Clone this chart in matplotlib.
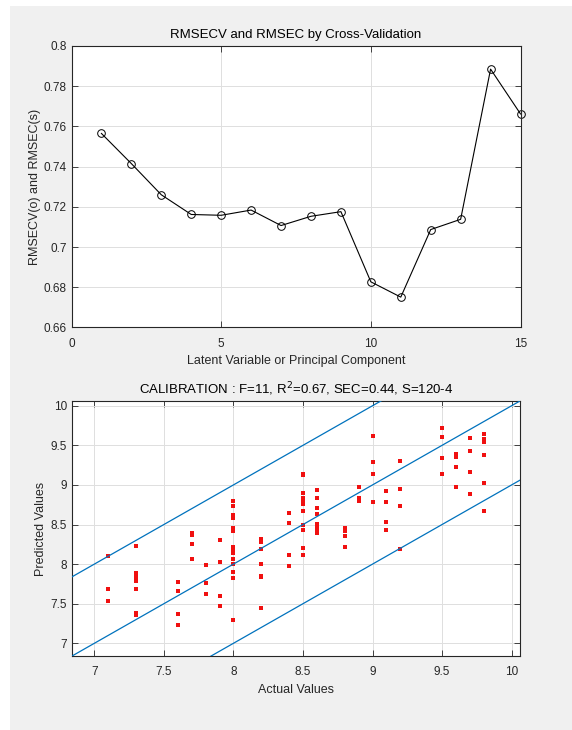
import numpy as np
import matplotlib.pyplot as plt
from matplotlib.patches import Rectangle

# RMSECV per number of latent variables
n_components = [1, 2, 3, 4, 5, 6, 7, 8, 9, 10, 11, 12, 13, 14, 15]
rmsecv = [0.7565, 0.7415, 0.7260, 0.7162, 0.7158, 0.7184, 0.7107, 0.7153,
          0.7176, 0.6827, 0.6751, 0.7087, 0.7138, 0.7885, 0.7662]

# Calibration set: actual value -> predicted values for the samples at that level
actual_levels = [7.1, 7.3, 7.6, 7.7, 7.8, 7.9, 8.0, 8.2, 8.4, 8.5,
                 8.6, 8.8, 8.9, 9.0, 9.1, 9.2, 9.5, 9.6, 9.7, 9.8]
predicted_groups = [
    [8.10, 7.69, 7.53],
    [8.23, 7.89, 7.84, 7.81, 7.79, 7.69, 7.38, 7.36],
    [7.78, 7.66, 7.37, 7.23],
    [8.39, 8.37, 8.26, 8.06],
    [7.99, 7.76, 7.62],
    [8.31, 8.03, 7.60, 7.47],
    [8.80, 8.74, 8.62, 8.60, 8.58, 8.46, 8.42, 8.21, 8.16, 8.14, 8.06, 8.00, 7.90, 7.83, 7.29],
    [8.32, 8.30, 8.28, 8.19, 8.00, 7.85, 7.84, 7.44],
    [8.64, 8.52, 8.11, 7.97],
    [9.14, 9.12, 8.90, 8.84, 8.78, 8.76, 8.67, 8.49, 8.43, 8.20, 8.12],
    [8.94, 8.83, 8.71, 8.63, 8.51, 8.49, 8.47, 8.44, 8.42, 8.39],
    [8.46, 8.44, 8.42, 8.36, 8.22],
    [8.97, 8.83, 8.80],
    [9.62, 9.29, 9.14, 8.78],
    [8.92, 8.78, 8.53, 8.43],
    [9.30, 8.95, 8.73, 8.19],
    [9.72, 9.61, 9.34, 9.14],
    [9.39, 9.37, 9.35, 9.23, 8.97],
    [9.59, 9.43, 9.16, 8.88],
    [9.64, 9.58, 9.56, 9.54, 9.38, 9.02, 8.67],
]
band_offsets = [1, 0, -1]

TXT = "#262626"
GRID = "#dfdfdf"
LINE_BLUE = "#0072BD"


def style_axes(ax):
    ax.set_facecolor("white")
    for s in ax.spines.values():
        s.set_color(TXT)
        s.set_linewidth(0.8)
    ax.tick_params(direction="in", top=True, right=True, length=4, width=0.6,
                   colors=TXT, labelsize=8.5)
    ax.tick_params(axis="x", pad=7.5)
    ax.tick_params(axis="y", pad=3.5)
    ax.grid(True, color=GRID, linewidth=0.7)
    ax.set_axisbelow(True)


def main():
    plt.rcParams["font.family"] = ["Liberation Sans", "DejaVu Sans"]
    fig = plt.figure(figsize=(5.72, 7.30), dpi=100, facecolor="white")
    # grey window panel with a thin white strip on the left and top
    fig.patches.append(Rectangle((10 / 572, 0), 1, 1 - 6 / 730, transform=fig.transFigure,
                                 facecolor="#f0f0f0", edgecolor="none", zorder=-10))

    # top: RMSECV curve
    ax1 = fig.add_axes([0.125, 0.5514, 0.785, 0.3856])
    style_axes(ax1)
    ax1.plot(n_components, rmsecv, color="black", linewidth=0.8, marker="o",
             markersize=5.5, markerfacecolor="none", markeredgewidth=0.7, clip_on=False)
    ax1.set_xlim(0, 15)
    ax1.set_ylim(0.66, 0.8)
    ax1.set_xticks([0, 5, 10, 15])
    ax1.set_yticks(np.arange(0.66, 0.801, 0.02))
    ax1.set_yticklabels(["0.66", "0.68", "0.7", "0.72", "0.74", "0.76", "0.78", "0.8"])
    ax1.set_title("RMSECV and RMSEC by Cross-Validation", fontsize=9.5, color="black", pad=5.5)
    ax1.set_xlabel("Latent Variable or Principal Component", fontsize=9, color=TXT, labelpad=4)
    ax1.set_ylabel("RMSECV(o) and RMSEC(s)", fontsize=9, color=TXT, labelpad=2)

    # bottom: calibration predicted vs actual
    ax2 = fig.add_axes([0.126, 0.1014, 0.783, 0.3493])
    style_axes(ax2)
    xs, ys = [], []
    for a, group in zip(actual_levels, predicted_groups):
        xs += [a] * len(group)
        ys += group
    ax2.plot(xs, ys, linestyle="none", marker="s", markersize=2.4, color="#f01010",
             markeredgewidth=0, zorder=2)
    lim = (6.84, 10.06)
    diag = np.array(lim)
    for off in band_offsets:
        ax2.plot(diag, diag + off, color=LINE_BLUE, linewidth=0.9, zorder=3)
    ax2.set_xlim(lim)
    ax2.set_ylim(lim)
    ticks = np.arange(7, 10.01, 0.5)
    labels = ["7", "7.5", "8", "8.5", "9", "9.5", "10"]
    ax2.set_xticks(ticks)
    ax2.set_xticklabels(labels)
    ax2.set_yticks(ticks)
    ax2.set_yticklabels(labels)
    ax2.set_title("CALIBRATION : F=11, R$^2$=0.67, SEC=0.44, S=120-4", fontsize=9.5,
                  color="black", pad=5.5)
    ax2.set_xlabel("Actual Values", fontsize=9, color=TXT, labelpad=4)
    ax2.set_ylabel("Predicted Values", fontsize=9, color=TXT, labelpad=3)

    fig.savefig("out.png", dpi=100)


if __name__ == "__main__":
    main()
